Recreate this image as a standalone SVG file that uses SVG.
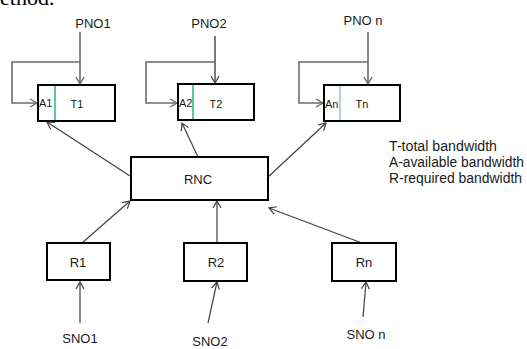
<svg xmlns="http://www.w3.org/2000/svg" width="527" height="349" viewBox="0 0 527 349">
<style>
.box{fill:#fff;stroke:#000;stroke-width:2}
.t{font-family:"Liberation Sans",Arial,sans-serif;font-size:13px;fill:#1a1a1a}
.s{font-family:"Liberation Sans",Arial,sans-serif;font-size:11px;fill:#1a1a1a}
.lg{font-family:"Liberation Sans",Arial,sans-serif;font-size:14px;fill:#1a1a1a}
.c{fill:none;stroke:#404040;stroke-width:1.2}
.g{fill:none;stroke:#6b6b6b;stroke-width:1.6}
</style>
<defs>
<marker id="ah" markerWidth="10" markerHeight="10" refX="8" refY="5" orient="auto" markerUnits="userSpaceOnUse">
<path d="M1,1 L8,5 L1,9" fill="none" stroke="#404040" stroke-width="1.2"/>
</marker>
<marker id="ahg" markerWidth="10" markerHeight="10" refX="8" refY="5" orient="auto" markerUnits="userSpaceOnUse">
<path d="M1,1 L8,5 L1,9" fill="none" stroke="#6b6b6b" stroke-width="1.4"/>
</marker>
</defs>
<text x="0" y="5" font-family="Liberation Serif,serif" font-size="22" fill="#000">ethod.</text>
<g id="connectors">
<path class="g" d="M80,32 V84" marker-end="url(#ahg)"/>
<path class="g" d="M80,62 H12 V103 H37" marker-end="url(#ahg)"/>
<path class="c" d="M215,36 V83" marker-end="url(#ah)" style="stroke:#222"/>
<path class="g" d="M215,62 H146 V103 H177" marker-end="url(#ahg)"/>
<path class="g" d="M368,32 V84" marker-end="url(#ahg)"/>
<path class="g" d="M368,62 H299 V103 H323" marker-end="url(#ahg)"/>
<path class="c" d="M130,176 L47,122" marker-end="url(#ah)"/>
<path class="c" d="M198,157 L182,123" marker-end="url(#ah)"/>
<path class="c" d="M268,177 L326,123" marker-end="url(#ah)"/>
<path class="c" d="M82,243 L130,201" marker-end="url(#ah)"/>
<path class="c" d="M217,243 V201" marker-end="url(#ah)"/>
<path class="c" d="M362,243 L269,208" marker-end="url(#ah)"/>
<path class="c" d="M80,323 V282" marker-end="url(#ah)"/>
<path class="c" d="M208,323 L217,282" marker-end="url(#ah)"/>
<path class="c" d="M363,317 L366,282" marker-end="url(#ah)"/>
</g>
<g id="T1">
<rect class="box" x="38" y="85" width="77" height="36"/>
<line x1="55" y1="86" x2="55" y2="120" stroke="#00b050" stroke-width="1.3"/>
<text class="s" x="39" y="107">A1</text>
<text class="s" x="77" y="108" text-anchor="middle">T1</text>
</g>
<g id="T2">
<rect class="box" x="178" y="84" width="76" height="36"/>
<line x1="193" y1="85" x2="193" y2="119" stroke="#00b050" stroke-width="1.3"/>
<text class="s" x="179" y="107">A2</text>
<text class="s" x="216" y="108" text-anchor="middle">T2</text>
</g>
<g id="Tn">
<rect class="box" x="324" y="85" width="76" height="36"/>
<line x1="340" y1="86" x2="340" y2="120" stroke="#8db3e2" stroke-width="1.3"/>
<text class="s" x="325" y="108">An</text>
<text class="s" x="362" y="108" text-anchor="middle">Tn</text>
</g>
<g id="RNC">
<rect class="box" x="131" y="157" width="137" height="43"/>
<text class="t" x="198" y="184" text-anchor="middle" font-size="14">RNC</text>
</g>
<g id="R1">
<rect class="box" x="47" y="243" width="63" height="37"/>
<text class="t" x="78" y="267" text-anchor="middle">R1</text>
</g>
<g id="R2">
<rect class="box" x="184" y="243" width="63" height="38"/>
<text class="t" x="216" y="267" text-anchor="middle">R2</text>
</g>
<g id="Rn">
<rect class="box" x="332" y="243" width="64" height="38"/>
<text class="t" x="364" y="267" text-anchor="middle">Rn</text>
</g>
<g id="labels">
<text class="t" x="93" y="28" text-anchor="middle">PNO1</text>
<text class="t" x="209" y="28" text-anchor="middle">PNO2</text>
<text class="t" x="363" y="25" text-anchor="middle">PNO n</text>
<text class="t" x="80" y="343" text-anchor="middle">SNO1</text>
<text class="t" x="210" y="346" text-anchor="middle">SNO2</text>
<text class="t" x="366" y="339" text-anchor="middle">SNO n</text>
</g>
<g id="legend">
<text class="lg" x="389" y="151" textLength="108" lengthAdjust="spacingAndGlyphs">T-total bandwidth</text>
<text class="lg" x="389" y="167" textLength="135" lengthAdjust="spacingAndGlyphs">A-available bandwidth</text>
<text class="lg" x="389" y="183" textLength="133" lengthAdjust="spacingAndGlyphs">R-required bandwidth</text>
</g>
</svg>
